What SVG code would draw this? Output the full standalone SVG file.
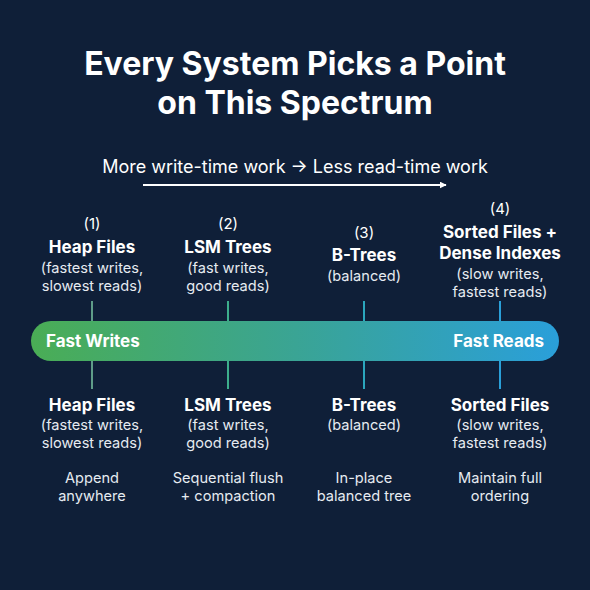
<svg xmlns="http://www.w3.org/2000/svg" width="590" height="590" viewBox="0 0 590 590">
<defs>
<linearGradient id="spec" x1="0" y1="0" x2="1" y2="0">
<stop offset="0" stop-color="#4aad55"/>
<stop offset="0.5" stop-color="#3aa494"/>
<stop offset="1" stop-color="#2a9fda"/>
</linearGradient>
<marker id="ah" viewBox="0 0 10 10" refX="9" refY="5" markerWidth="7" markerHeight="7" markerUnits="userSpaceOnUse" orient="auto">
<path d="M0,0 L10,5 L0,10 z" fill="#ffffff"/>
</marker>
<style>
text{font-family:Inter,"Liberation Sans",sans-serif;fill:#ffffff;text-anchor:middle}
.title{font-size:32px;font-weight:700}
.sub{font-size:18px}
.num{font-size:15px}
.name{font-size:17px;font-weight:700}
.desc{font-size:14.6px;fill:#e6ebf1}
.bar{font-size:17px;font-weight:700}
.tick{stroke-width:2;fill:none}
</style>
</defs>
<rect width="590" height="590" fill="#0f1f38"/>
<g id="title">
<text class="title" x="295" y="75">Every System Picks a Point</text>
<text class="title" x="295" y="114">on This Spectrum</text>
</g>
<g id="subtitle">
<text class="sub" x="295" y="173">More write-time work → Less read-time work</text>
</g>
<g id="connectors">
<line x1="143" y1="185" x2="446" y2="185" stroke="#ffffff" stroke-width="2" marker-end="url(#ah)"/>
<line class="tick" x1="92" y1="301" x2="92" y2="389" stroke="#5f9c88"/>
<line class="tick" x1="228" y1="301" x2="228" y2="389" stroke="#3dae8c"/>
<line class="tick" x1="364" y1="301" x2="364" y2="389" stroke="#2ba6bd"/>
<line class="tick" x1="500" y1="301" x2="500" y2="389" stroke="#2a9fd8"/>
</g>
<g id="spectrum-bar">
<rect x="31" y="321" width="528" height="40" rx="20" fill="url(#spec)"/>
<text class="bar" x="46" y="347" style="text-anchor:start">Fast Writes</text>
<text class="bar" x="544" y="347" style="text-anchor:end">Fast Reads</text>
</g>
<g id="top-heap">
<text class="num" x="92" y="229">(1)</text>
<text class="name" x="92" y="253">Heap Files</text>
<text class="desc" x="92" y="273">(fastest writes,</text>
<text class="desc" x="92" y="291">slowest reads)</text>
</g>
<g id="top-lsm">
<text class="num" x="228" y="229">(2)</text>
<text class="name" x="228" y="253">LSM Trees</text>
<text class="desc" x="228" y="273">(fast writes,</text>
<text class="desc" x="228" y="291">good reads)</text>
</g>
<g id="top-btree">
<text class="num" x="364" y="238">(3)</text>
<text class="name" x="364" y="261">B-Trees</text>
<text class="desc" x="364" y="281">(balanced)</text>
</g>
<g id="top-sorted">
<text class="num" x="500" y="214">(4)</text>
<text class="name" x="500" y="238">Sorted Files +</text>
<text class="name" x="500" y="259">Dense Indexes</text>
<text class="desc" x="500" y="279">(slow writes,</text>
<text class="desc" x="500" y="297">fastest reads)</text>
</g>
<g id="bottom-heap">
<text class="name" x="92" y="411">Heap Files</text>
<text class="desc" x="92" y="430">(fastest writes,</text>
<text class="desc" x="92" y="448">slowest reads)</text>
<text class="desc" x="92" y="483">Append</text>
<text class="desc" x="92" y="501">anywhere</text>
</g>
<g id="bottom-lsm">
<text class="name" x="228" y="411">LSM Trees</text>
<text class="desc" x="228" y="430">(fast writes,</text>
<text class="desc" x="228" y="448">good reads)</text>
<text class="desc" x="228" y="483">Sequential flush</text>
<text class="desc" x="228" y="501">+ compaction</text>
</g>
<g id="bottom-btree">
<text class="name" x="364" y="411">B-Trees</text>
<text class="desc" x="364" y="430">(balanced)</text>
<text class="desc" x="364" y="483">In-place</text>
<text class="desc" x="364" y="501">balanced tree</text>
</g>
<g id="bottom-sorted">
<text class="name" x="500" y="411">Sorted Files</text>
<text class="desc" x="500" y="430">(slow writes,</text>
<text class="desc" x="500" y="448">fastest reads)</text>
<text class="desc" x="500" y="483">Maintain full</text>
<text class="desc" x="500" y="501">ordering</text>
</g>
</svg>
